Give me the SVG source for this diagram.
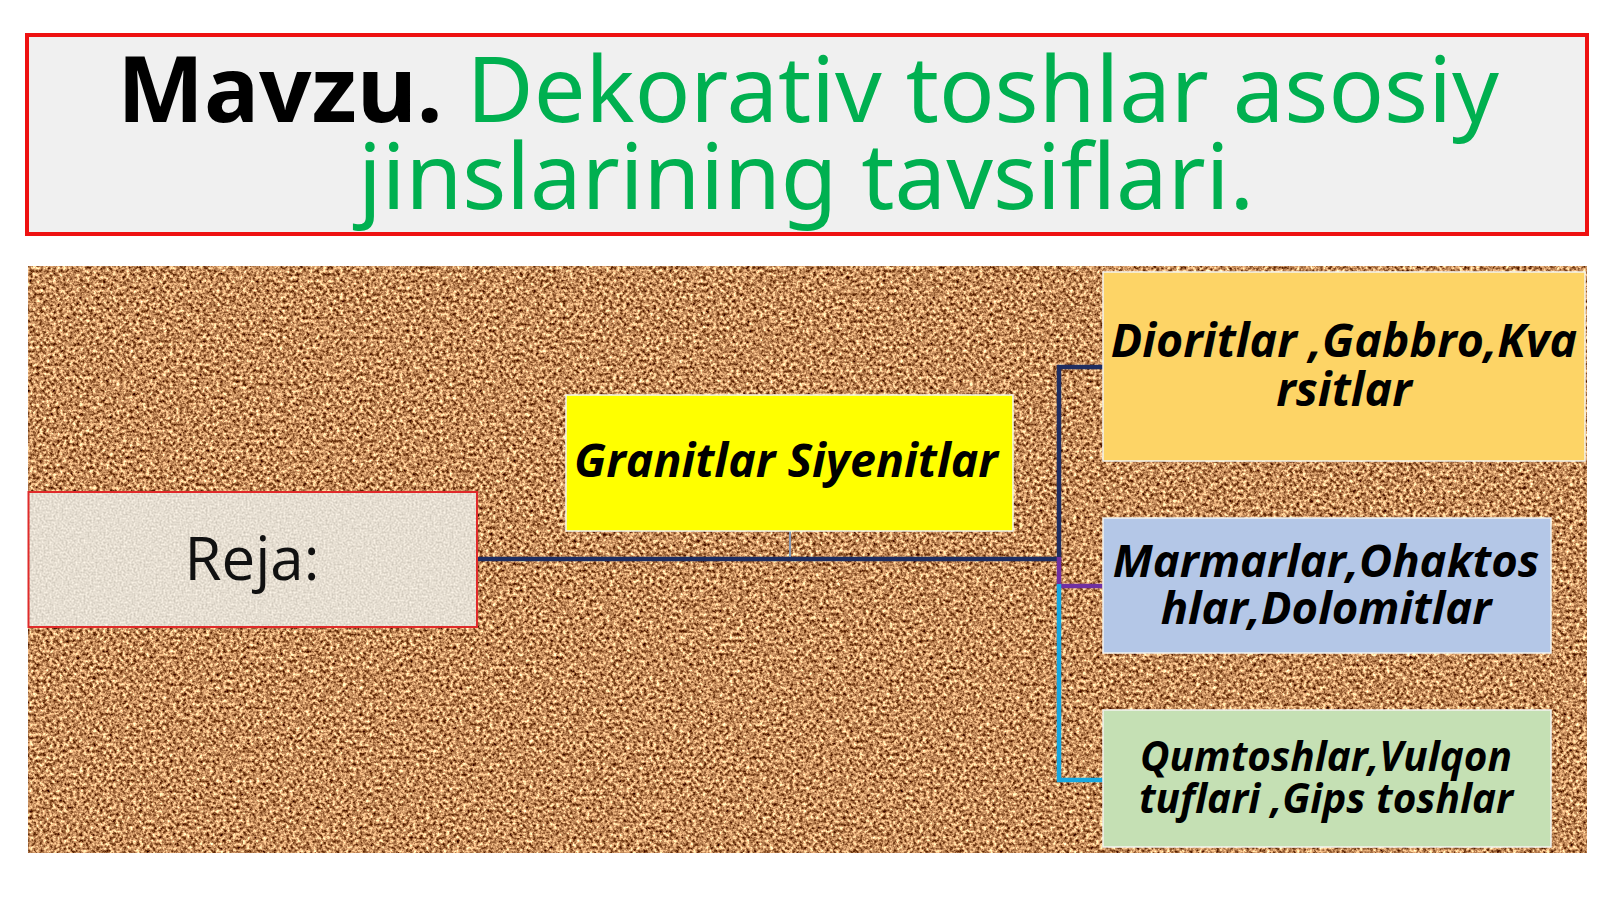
<svg xmlns="http://www.w3.org/2000/svg" width="1600" height="899" viewBox="0 0 1600 899">
<style>
.title{font-family:"Noto Sans","Open Sans","Liberation Sans",sans-serif;font-size:92px;text-anchor:middle}
.bi{font-family:"Open Sans","Noto Sans","Liberation Sans",sans-serif;font-weight:700;font-style:italic;fill:#000;text-anchor:middle}
.reg{font-family:"Open Sans","Noto Sans","Liberation Sans",sans-serif;fill:#111;text-anchor:middle}
.box{stroke:#f4f4f0;stroke-width:1.5}
.conn{fill:none;stroke-width:4.5;stroke-linejoin:miter;stroke-linecap:butt}
</style>
<defs>
<filter id="cork" x="0" y="0" width="100%" height="100%" color-interpolation-filters="sRGB">
<feTurbulence type="fractalNoise" baseFrequency="0.3" numOctaves="3" seed="7" result="n"/>
<feColorMatrix in="n" type="matrix" values="1.6 0 0 0 -0.03  1.6 0 0 0 -0.25  1.4 0 0 0 -0.34  0 0 0 0 1"/>
</filter>
<filter id="paper" x="0" y="0" width="100%" height="100%" color-interpolation-filters="sRGB">
<feTurbulence type="fractalNoise" baseFrequency="0.5" numOctaves="2" seed="3" result="n"/>
<feColorMatrix in="n" type="matrix" values="0.3 0 0 0 0.75  0.3 0 0 0 0.72  0.3 0 0 0 0.67  0 0 0 0 1"/>
</filter>
</defs>
<rect x="0" y="0" width="1600" height="899" fill="#ffffff"/>

<g id="title">
<rect x="27" y="35" width="1560" height="199" fill="#f0f0f0" stroke="#ee1111" stroke-width="4"/>
<text class="title" x="808" y="122"><tspan font-weight="700" fill="#000">Mavzu.</tspan><tspan fill="#00b050"> Dekorativ toshlar asosiy</tspan></text>
<text class="title" x="806" y="209" fill="#00b050">jinslarining tavsiflari.</text>
</g>

<g id="board">
<rect x="28.5" y="266" width="1558.5" height="587" fill="#c39567" filter="url(#cork)"/>
</g>

<g id="connectors">
<path class="conn" d="M477,559 H1059 V367 H1103" stroke="#1f2d5f"/>
<path class="conn" d="M1059,557 V586 H1103" stroke="#7030a0"/>
<path class="conn" d="M1059,584 V780 H1103" stroke="#16a8e0"/>
<path d="M790,531 V557" fill="none" stroke="#8496b0" stroke-width="2"/>
</g>

<g id="node-reja">
<rect x="28.5" y="492" width="448.5" height="135" fill="#e4ded4" filter="url(#paper)"/>
<rect x="28.5" y="492" width="448.5" height="135" fill="none" stroke="#e02a2a" stroke-width="2"/>
<text class="reg" x="252" y="580" font-size="60">Reja:</text>
</g>

<g id="node-granitlar">
<rect class="box" x="566" y="395" width="447" height="136" fill="#ffff00"/>
<text class="bi" x="786" y="477" font-size="46.5">Granitlar Siyenitlar</text>
</g>

<g id="node-dioritlar">
<rect class="box" x="1103" y="272" width="482" height="189" fill="#fdd466"/>
<text class="bi" x="1344" y="357" font-size="46.5">Dioritlar ,Gabbro,Kva</text>
<text class="bi" x="1344" y="406" font-size="46.5">rsitlar</text>
</g>

<g id="node-marmarlar">
<rect class="box" x="1103" y="518" width="448" height="135" fill="#b4c7e7"/>
<text class="bi" x="1326" y="577" font-size="45.5">Marmarlar,Ohaktos</text>
<text class="bi" x="1326" y="624" font-size="45.5">hlar,Dolomitlar</text>
</g>

<g id="node-qumtoshlar">
<rect class="box" x="1103" y="710" width="448" height="137" fill="#c5e0b4"/>
<text class="bi" x="1326" y="771" font-size="40.5">Qumtoshlar,Vulqon</text>
<text class="bi" x="1326" y="813" font-size="40.5">tuflari ,Gips toshlar</text>
</g>
</svg>
